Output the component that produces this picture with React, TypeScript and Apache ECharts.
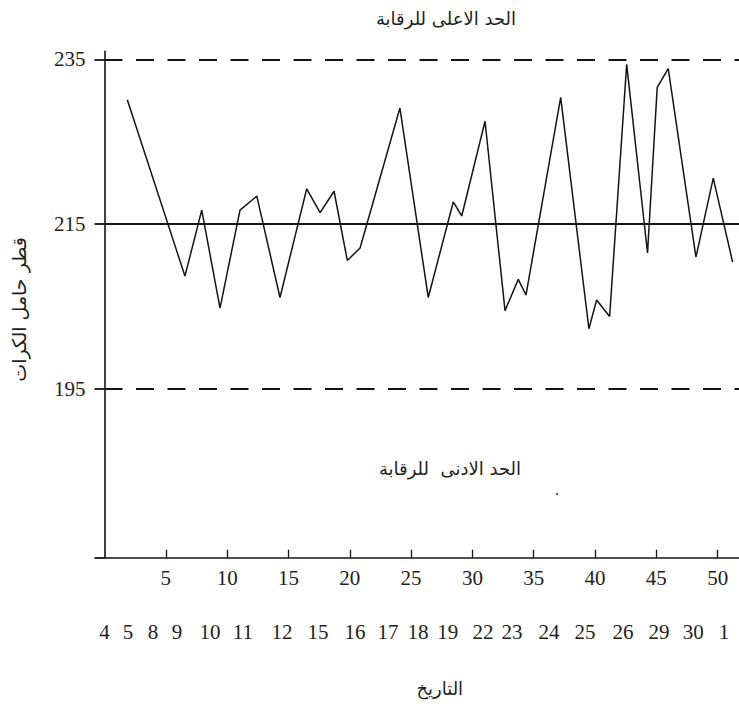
import React, { useEffect, useRef } from "react";
import * as echarts from "echarts";

// Sample positions (sample number) and measured diameters
const sampleX = [1.86, 6.56, 7.93, 9.42, 11.05, 12.42, 14.31, 16.49, 17.58, 18.72, 19.8, 20.84, 24.09, 26.4, 28.44, 29.13, 31.03, 32.66, 33.74, 34.37, 37.2, 39.5, 40.13, 41.19, 42.58, 44.28, 45.07, 45.97, 48.23, 49.64, 51.22];
const diameter = [230.1, 208.7, 216.7, 204.8, 216.7, 218.4, 206.1, 219.3, 216.4, 219.0, 210.6, 212.1, 229.1, 206.1, 217.7, 216.0, 227.5, 204.5, 208.3, 206.4, 230.4, 202.3, 205.8, 203.8, 234.4, 211.5, 231.6, 233.9, 211.0, 220.6, 210.4];

// Control limits
const upperLimit = 235;
const centerLine = 215;
const lowerLimit = 195;

// Axis tick labels
const sampleTicks = [5, 10, 15, 20, 25, 30, 35, 40, 45, 50];
const yTicks = [195, 215, 235];
// Dates (day of month) and the sample number where each begins
const dateTicks = [0, 1.92, 3.95, 5.91, 8.6, 11.29, 14.47, 17.4, 20.43, 23.12, 25.56, 28.0, 30.86, 33.23, 36.24, 39.18, 42.28, 45.22, 48.0, 50.51];
const dateLabels = ["4", "5", "8", "9", "10", "11", "12", "15", "16", "17", "18", "19", "22", "23", "24", "25", "26", "29", "30", "1"];

const yMin = 174.5;
const yMax = 236;
const xMax = 51.74;

const INK = "#141414";
const serif = "'Liberation Serif', 'DejaVu Serif', serif";
const arabic = "'DejaVu Sans', 'Noto Sans', sans-serif";

export default function App() {
  const ref = useRef<HTMLDivElement>(null);

  useEffect(() => {
    if (!ref.current) return;
    const chart = echarts.init(ref.current, undefined, { renderer: "svg" });
    const points = sampleX.map((x, i) => [x, diameter[i]]);

    chart.setOption({
      animation: false,
      backgroundColor: "#ffffff",
      grid: { left: 104.5, right: 0, top: 51.25, bottom: 153.3, containLabel: false },
      xAxis: [
        {
          type: "value",
          min: 0,
          max: xMax,
          position: "bottom",
          splitLine: { show: false },
          axisLine: { show: true, lineStyle: { color: INK, width: 1.6 } },
          axisTick: {
            show: true,
            inside: true,
            length: 8,
            customValues: sampleTicks,
            lineStyle: { color: INK, width: 1.3 },
          },
          axisLabel: {
            customValues: sampleTicks,
            margin: 10,
            color: "#1e1e1e",
            fontFamily: serif,
            fontSize: 21,
          },
          name: "التاريخ",
          nameLocation: "middle",
          nameGap: 122,
          nameTextStyle: {
            fontFamily: arabic,
            fontSize: 18,
            color: "#1e1e1e",
            padding: [0, 0, 0, 36],
          },
        },
        {
          type: "value",
          min: 0,
          max: xMax,
          position: "bottom",
          offset: 54,
          splitLine: { show: false },
          axisLine: { show: false },
          axisTick: { show: false },
          axisLabel: {
            customValues: dateTicks,
            margin: 10,
            color: "#1e1e1e",
            fontFamily: serif,
            fontSize: 21,
            formatter: (v: number) => {
              let best = 0;
              for (let i = 0; i < dateTicks.length; i++) {
                if (Math.abs(dateTicks[i] - v) < Math.abs(dateTicks[best] - v)) best = i;
              }
              return dateLabels[best];
            },
          },
        },
      ],
      yAxis: {
        type: "value",
        min: yMin,
        max: yMax,
        splitLine: { show: false },
        axisLine: { show: true, lineStyle: { color: INK, width: 1.6 } },
        axisTick: {
          show: true,
          inside: false,
          length: 10,
          customValues: [yMin, ...yTicks],
          lineStyle: { color: INK, width: 1.8 },
        },
        axisLabel: {
          customValues: yTicks,
          margin: 19,
          color: "#1e1e1e",
          fontFamily: serif,
          fontSize: 21,
        },
        name: "قطر حامل الكرات",
        nameLocation: "middle",
        nameRotate: 90,
        nameGap: 76,
        nameTextStyle: {
          fontFamily: arabic,
          fontSize: 19,
          color: "#1e1e1e",
          padding: [0, 10, 0, 0],
        },
      },
      series: [
        {
          type: "line",
          xAxisIndex: 0,
          data: points,
          symbol: "none",
          lineStyle: { color: INK, width: 1.5 },
          markLine: {
            silent: true,
            symbol: "none",
            label: { show: false },
            data: [
              { yAxis: upperLimit, lineStyle: { type: [18, 13.5], width: 2, color: INK } },
              { yAxis: centerLine, lineStyle: { type: "solid", width: 1.8, color: INK } },
              { yAxis: lowerLimit, lineStyle: { type: [18, 13.5], width: 2, color: INK } },
            ],
          },
        },
      ],
      graphic: [
        {
          type: "text",
          x: 446,
          y: 18,
          style: {
            text: "الحد الاعلى للرقابة",
            fontFamily: arabic,
            fontSize: 18,
            fill: "#1e1e1e",
            align: "center",
            verticalAlign: "middle",
          },
        },
        {
          type: "text",
          x: 450,
          y: 468,
          style: {
            text: "الحد الادنى  للرقابة",
            fontFamily: arabic,
            fontSize: 18,
            fill: "#1e1e1e",
            align: "center",
            verticalAlign: "middle",
          },
        },
        {
          type: "circle",
          shape: { cx: 557, cy: 494, r: 1.1 },
          style: { fill: "#444" },
        },
      ],
    });

    return () => chart.dispose();
  }, []);

  return (
    <div
      ref={ref}
      style={{ position: "fixed", left: 0, top: 0, width: "739px", height: "711px", background: "#fff" }}
    />
  );
}
